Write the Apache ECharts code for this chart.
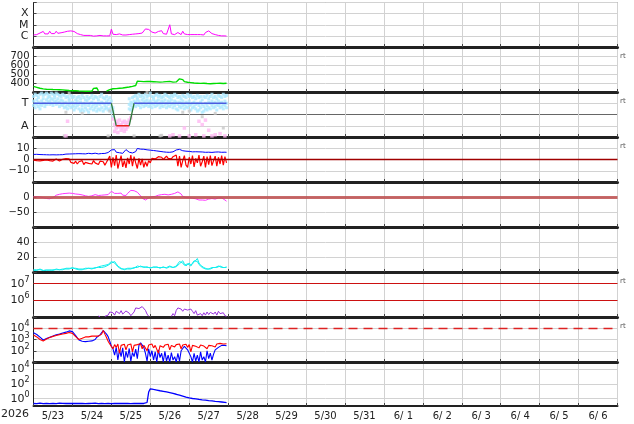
<!DOCTYPE html>
<html><head><meta charset="utf-8">
<script src="https://cdn.jsdelivr.net/npm/echarts@6/dist/echarts.min.js"></script>
<style>html,body{margin:0;padding:0;background:#fff}#c{width:634px;height:424px}</style>
</head><body><div id="c"></div>
<script>
// ---- tick labels ----
const dayLabels = ['5/23','5/24','5/25','5/26','5/27','5/28','5/29','5/30','5/31','6/ 1','6/ 2','6/ 3','6/ 4','6/ 5','6/ 6'];
const yearLabel = '2026';
// ---- hourly data from 5/23 00:00 ----
const xray = [1.2e-6,1.1e-6,1.3e-6,1.2e-6,1.8e-6,1.4e-6,2.5e-6,1.5e-6,1.6e-6,1.5e-6,
 2.6e-6,1.6e-6,1.7e-6,1.6e-6,2.6e-6,1.7e-6,1.8e-6,1.9e-6,2.4e-6,2.2e-6,
 3.0e-6,2.6e-6,3.6e-6,2.8e-6,3.4e-6,2.5e-6,2.0e-6,1.6e-6,1.4e-6,1.3e-6,
 1.2e-6,1.1e-6,1.0e-6,1.1e-6,1.3e-6,1.1e-6,1.0e-6,0.95e-6,1.0e-6,1.0e-6,
 0.95e-6,1.1e-6,1.0e-6,1.0e-6,0.95e-6,1.0e-6,1.1e-6,1.0e-6,4.0e-6,1.4e-6,
 1.2e-6,1.3e-6,1.2e-6,1.5e-6,1.3e-6,1.2e-6,1.3e-6,1.2e-6,1.7e-6,1.3e-6,
 1.4e-6,1.4e-6,1.6e-6,1.5e-6,1.5e-6,1.6e-6,1.5e-6,1.8e-6,2.5e-6,4.2e-6,
 5.0e-6,3.8e-6,2.8e-6,2.2e-6,1.9e-6,1.8e-6,1.7e-6,2.5e-6,1.9e-6,2.9e-6,
 1.6e-6,1.5e-6,1.4e-6,1.5e-6,1.0e-5,1.5e-6,1.4e-6,1.3e-6,1.4e-6,2.0e-6,
 1.4e-6,1.3e-6,2.6e-6,1.5e-6,1.4e-6,1.3e-6,1.4e-6,1.3e-6,1.2e-6,1.3e-6,
 1.2e-6,1.3e-6,1.2e-6,1.3e-6,1.2e-6,1.2e-6,2.0e-6,3.0e-6,2.8e-6,2.0e-6,
 1.6e-6,1.4e-6,1.3e-6,1.2e-6,1.1e-6,1.0e-6,1.0e-6,0.95e-6,1.0e-6,0.95e-6];
const speed = [362,358,352,346,342,338,335,333,331,330,
 329,328,327,327,326,326,325,325,324,322,
 320,318,316,315,314,313,315,312,311,313,
 310,312,309,314,308,316,310,340,318,345,
 312,null,null,null,null,309,318,326,332,336,
 340,338,344,342,346,344,348,350,352,355,
 360,362,365,372,420,428,418,424,415,420,
 418,412,416,410,414,408,412,405,410,402,
 412,404,415,406,418,404,410,420,412,432,
 446,425,438,415,422,408,418,404,412,400,
 410,398,405,396,408,398,404,394,400,392,
 398,394,402,396,410,398,406,394,402,398];
// sector: T = 1, A = -1
const sectorHours = [0,48,51,59,62,119];
const sectorLevel = [1,1,-1,-1,1,1];
const phiHi = [1.6,1.8,1.7,1.5,1.8,1.9,1.7,1.8,1.9,1.8,
 1.6,1.9,1.8,1.7,1.9,1.8,1.7,1.6,1.8,1.7,
 1.5,1.6,1.4,1.7,1.5,1.6,1.3,1.5,1.6,1.4,
 1.7,1.5,1.3,1.6,1.4,1.5,1.7,1.4,1.6,1.5,
 1.3,1.6,1.8,1.5,1.4,1.6,1.3,1.5,1.2,0.6,
 null,null,null,null,null,null,null,null,null,1.4,
 1.1,1.5,1.6,1.7,1.5,1.8,1.6,1.7,1.5,1.8,
 1.6,1.7,1.9,1.6,1.5,1.7,1.8,1.6,1.7,1.5,
 1.6,1.8,1.7,1.6,1.5,1.7,1.6,1.8,1.7,1.5,
 1.6,1.4,1.7,1.6,1.5,1.8,1.6,1.7,1.5,1.6,
 1.4,1.7,1.5,1.6,1.3,1.6,1.5,1.7,1.4,1.6,
 1.8,1.5,1.6,1.4,1.7,1.6,1.5,1.8,1.6,1.7];
const phiMid = [1.2,1.0,1.3,1.1,0.9,1.2,1.4,1.0,1.3,1.5,
 1.2,1.4,1.3,1.5,1.2,1.4,1.1,1.3,1.2,1.0,
 1.1,0.9,1.2,1.0,1.1,0.8,1.0,1.2,0.9,1.1,
 0.8,1.0,0.9,1.2,0.8,1.0,1.1,0.9,1.0,0.8,
 1.0,0.9,1.1,1.0,0.8,1.1,0.9,1.0,0.7,0.3,
 null,null,null,null,null,null,null,null,null,0.9,
 0.8,1.0,1.2,1.1,1.3,1.2,1.0,1.3,1.1,1.2,
 1.3,1.1,1.2,1.0,1.3,1.1,1.2,1.3,1.0,1.2,
 1.1,1.3,1.0,1.2,1.1,1.3,1.0,1.2,1.1,0.9,
 1.1,1.0,1.2,0.9,1.1,1.0,1.2,0.9,1.0,1.1,
 0.9,1.0,0.8,1.1,0.9,0.7,1.0,0.8,1.1,1.0,
 1.2,1.0,1.1,0.9,1.2,1.0,1.1,0.9,1.2,1.0];
const phiLo = [0.8,0.6,0.9,0.7,0.5,0.8,1.0,0.7,0.9,1.1,
 0.9,1.0,0.8,1.1,0.9,1.0,0.7,0.9,0.8,0.6,
 0.7,0.5,0.8,0.6,0.7,0.4,0.6,0.8,0.5,0.3,
 0.5,0.3,0.6,0.4,0.2,0.5,0.7,0.4,0.6,0.3,
 0.5,0.4,0.6,0.3,0.5,0.6,0.4,0.5,0.2,-0.2,
 null,null,null,null,null,null,null,null,null,0.5,
 0.4,0.6,0.8,0.7,0.9,0.8,0.6,0.9,0.7,0.8,
 0.9,0.7,0.8,0.6,0.9,0.7,0.8,0.9,0.6,0.8,
 0.7,0.9,0.6,0.8,0.7,0.9,0.6,0.8,0.5,0.4,
 0.7,0.6,0.8,0.5,0.7,0.6,0.8,0.4,0.6,0.7,
 0.5,0.3,0.4,0.6,0.2,0.3,0.5,0.4,0.6,0.5,
 0.8,0.6,0.7,0.4,0.8,0.6,0.7,0.5,0.8,0.6];
const pinkHours = [20,21,49,50,50,51,51,52,52,53,53,54,54,55,55,56,56,57,57,58,58,59,60,
 84,86,90,93,96,100,102,104,105,106,108,110,112,115,118];
const pinkValues = [-1.9,-0.6,-0.4,-0.9,-1.5,-0.6,-1.2,-0.8,-1.6,-0.5,-1.1,-0.9,-1.4,-0.7,-1.2,-0.6,-1.5,-0.9,-1.3,-0.7,-1.1,-0.5,-0.3,
 -1.9,-1.8,-1.9,-1.2,-1.9,-1.8,-0.6,-0.9,-1.9,-0.5,-1.4,-1.9,-1.8,-1.7,-1.9];
const grayHours = [19,20,22,30,46,47,62,70,78,79,92,96,104,112,117];
const grayValues = [-1.9,0.2,1.9,0.1,-1.9,0.3,-1.9,1.95,-1.9,-1.85,0.2,0.3,-0.2,0.1,-1.2];
const bt = [4.5,4.4,4.6,4.3,4.4,4.2,4.3,4.1,4.2,4.0,4.1,4.0,4.2,3.9,4.1,4.0,4.2,4.1,4.3,4.5,
 4.8,5.0,4.9,5.2,5.0,5.3,5.1,5.0,5.2,5.4,5.1,5.3,5.0,5.2,5.5,5.3,5.1,5.4,5.6,5.2,5.0,5.5,5.3,5.7,5.4,5.8,6.2,5.9,
 8.5,7.2,8.8,6.5,7.8,6.0,6.4,5.5,6.2,8.8,8.0,6.5,6.0,5.8,6.3,7.0,
 9.8,9.5,9.2,9.0,9.1,8.8,8.6,8.5,8.3,8.2,8.0,7.8,7.6,7.5,7.2,7.0,
 6.8,6.6,6.5,6.7,6.4,6.6,6.8,7.2,8.5,9.4,9.0,8.2,
 7.8,7.6,7.4,7.0,7.2,7.1,6.8,7.0,6.9,6.6,6.8,6.5,6.7,6.6,6.4,6.7,6.5,6.6,6.3,6.5,6.6,6.4,6.7,6.5,6.4,6.6,6.5,6.4];
const bz = [-0.5,0.5,-1.0,-0.3,-1.2,0.2,-0.8,-1.5,-0.4,0.3,-1.0,-0.6,-1.4,-0.2,0.4,-0.9,-1.3,-0.5,0.2,-0.8,0.8,1.5,
 0.5,-2.5,-1.0,-3.5,-1.5,-4.0,-2.0,-3.0,-1.0,-4.5,-2.5,-1.5,-3.5,-2.0,-4.0,-1.0,-3.0,-2.5,-4.5,-1.5,-3.0,-2.0,-5.0,-2.5,
 -1.0,3.0,-7.0,2.0,-5.5,4.0,-8.0,-2.0,3.5,-6.5,-1.0,-7.5,1.5,-4.0,4.0,-6.0,2.5,-3.0,-8.0,1.0,
 -5.0,0.5,-7.0,-2.0,-6.0,-1.0,-3.0,
 1.0,2.0,0.5,1.5,2.5,1.0,2.0,0.0,1.5,3.0,1.0,2.0,0.5,2.5,1.0,
 4.0,-6.0,3.0,-7.0,-1.0,3.5,-5.0,-7.0,2.0,-4.0,3.5,-6.5,1.0,-3.0,4.0,-6.0,-2.0,3.0,-7.0,2.5,-4.5,3.5,-5.5,-1.0,3.0,-6.0,2.0,-4.0,3.5,-5.0,2.5,-3.0];
const dst = [1,0,1,0,0,-1,-2,-3,-5,-6,
 -6,-5,-2,3,6,8,9,10,11,12,
 12,12,13,12,12,11,10,10,9,8,
 7,6,4,3,2,3,4,6,8,7,
 5,4,6,8,7,5,8,14,19,17,
 12,10,12,16,13,6,1,5,12,18,
 22,23,21,18,16,12,4,-4,-9,-10,
 -7,-3,0,1,1,2,4,6,7,8,
 8,9,8,7,8,9,10,12,15,17,
 16,10,2,-1,-2,-3,-2,-3,-4,-5,
 -6,-8,-10,-11,-10,-12,-11,-9,-7,-6,
 -5,-6,-7,-5,-3,-1,-3,-6,-10,-14];
const cyanA = [3,2,3,4,3,2,2,3,2,2, 3,3,2,3,4,3,3,4,3,4, 5,4,5,6,5,4,5,4,4,3, 4,5,4,4,5,4,5,6,5,6,
 7,6,8,7,9,8,10,11,14,16, 12,10,7,5,4,3,4,5,4,3, 4,5,6,7,6,7,8,7,6,8, 7,6,5,6,7,8,6,5,6,7,
 6,5,6,7,8,7,6,7,8,10, 14,16,12,9,8,11,10,8,12,15, 17,14,10,8,6,5,4,5,4,5, 6,5,6,7,8,7,6,7,6,7];
const cyanB = [2,3,2,3,4,3,2,2,3,2, 2,3,3,2,3,4,3,3,4,3, 4,5,4,5,6,5,4,5,3,4, 3,4,5,4,5,4,4,5,6,5,
 6,7,6,8,7,8,9,10,12,13, 14,11,8,6,5,4,3,4,5,4, 5,4,5,6,8,6,7,6,7,7, 6,7,6,5,6,7,7,6,5,6,
 7,6,5,6,7,8,6,8,7,9, 11,13,15,11,8,9,12,9,10,13, 14,18,12,9,7,6,5,4,5,4, 5,6,5,6,7,8,6,6,7,6];
const fluence = [null,null,null,null,null,null,null,null,null,null,
 null,null,null,null,null,null,null,null,null,null,
 null,null,null,null,null,null,null,null,null,null,
 null,null,null,null,null,null,null,null,null,null,
 1.15e5,1.05e5,null,null,1.1e5,1.05e5,1.3e5,2.0e5,2.6e5,1.8e5,
 1.3e5,2.2e5,2.5e5,1.6e5,2.4e5,1.5e5,1.2e5,2.3e5,2.5e5,1.7e5,
 1.2e5,1.1e5,2.0e5,3.5e5,4.0e5,3.2e5,3.8e5,4.2e5,3.6e5,2.5e5,
 1.5e5,1.1e5,null,null,null,null,null,null,null,null,
 null,null,null,null,null,1.1e5,1.6e5,1.2e5,2.5e5,3.5e5,
 4.2e5,3.0e5,2.2e5,3.0e5,3.8e5,2.6e5,2.0e5,3.0e5,2.2e5,1.6e5,
 2.4e5,1.3e5,1.1e5,1.6e5,1.2e5,1.8e5,1.3e5,2.0e5,1.4e5,1.9e5,
 2.3e5,1.5e5,2.0e5,1.3e5,2.2e5,1.6e5,1.4e5,1.8e5,1.2e5,1.1e5];
const elecBlue = [4000,3400,2800,2200,1600,1100,
 900,1000,1200,1400,1600,1800,2000,2300,2600,2800,3000,
 3500,3800,4200,4500,5000,5800,6300,
 5000,3500,2200,1400,900,600,700,
 800,650,900,700,850,750,800,1000,
 1600,2000,2600,3200,6300,
 4500,3000,1800,700,250,
 150,40,200,15,120,30,180,10,90,25,160,12,70,30,140,20,
 300,500,400,200,
 60,12,150,30,100,15,80,10,120,25,60,10,90,12,40,10,70,15,30,10,60,12,100,
 150,250,200,120,80,
 30,10,60,12,40,10,80,15,30,10,100,20,60,15,50,
 120,150,200,250,300,320,300,280];
const elecRed = [2500,2100,1700,1300,1000,800,750,
 900,1100,1300,1500,1700,1900,2100,2300,2500,2700,2900,3100,3300,3500,3800,4200,4500,
 3500,2500,1800,1400,1000,1100,1300,
 1500,1700,1800,1700,1900,2000,1800,2000,2200,2000,2400,3000,
 6300,3000,1500,700,400,
 280,150,350,200,400,60,300,220,380,120,
 320,250,400,80,300,200,350,250,420,150,
 300,380,100,320,250,400,180,300,350,60,
 280,400,200,320,250,380,120,300,420,220,
 350,280,400,150,320,250,380,200,350,80,
 300,400,250,350,180,320,420,260,380,150,
 300,400,280,350,220,400,300,450,320,400,
 380,420];
const proton = [0.22,0.23,0.21,0.22,0.24,0.22,0.21,0.23,0.22,0.22,
 0.21,0.22,0.23,0.22,0.21,0.22,0.24,0.22,0.23,0.22,
 0.22,0.21,0.23,0.22,0.22,0.24,0.22,0.21,0.22,0.23,
 0.22,0.23,0.21,0.22,0.22,0.21,0.23,0.22,0.24,0.22,
 0.21,0.22,0.23,0.22,0.21,0.22,0.22,0.23,0.21,0.22,
 0.22,0.24,0.22,0.21,0.23,0.22,0.22,0.21,0.23,0.22,
 0.21,0.22,0.23,0.22,0.22,0.21,0.23,0.22,0.22,0.24,
 0.3,8,22,20,18,16.5,15,13.5,12,11,
 10,9,8.2,7.3,6.5,5.8,5.1,4.5,4.0,3.5,
 3.0,2.6,2.2,1.9,1.6,1.4,1.25,1.15,1.05,0.98,
 0.92,0.86,0.8,0.75,0.7,0.66,0.62,0.58,0.55,0.52,
 0.49,0.46,0.43,0.41,0.39,0.37,0.35,0.33,0.31,0.29];

// ---- layout ----
const FONT = 'DejaVu Sans';
const edges = [2.5, 47, 92, 137, 182, 227, 272, 317, 362, 406];
const GRID_C = '#d2d2d2';
const pairs = arr => arr.map((v, i) => [i, v]);
const pts = (hs, vs) => hs.map((h, i) => [h, vs[i]]);
const minus = v => (v < 0 ? '\u2212' + Math.abs(v) : String(v));
function powLabel(show) {
  return function (v) {
    const l = Math.log10(v), e = Math.round(l);
    if (Math.abs(l - e) > 0.01 || show.indexOf(e) < 0) return '';
    return '{b|10}{s|' + e + '}';
  };
}
const powRich = { b: { fontSize: 11, fontFamily: FONT, color: '#222' },
                  s: { fontSize: 8, fontFamily: FONT, color: '#222', padding: [0, 0, 8, 0] } };

const grids = [], xAxes = [], yAxes = [];
for (let i = 0; i < 9; i++) {
  grids.push({ left: 33.5, right: 16.5, top: edges[i], height: edges[i + 1] - edges[i],
    show: true, borderColor: '#222', borderWidth: 1, backgroundColor: 'transparent' });
  xAxes.push({ type: 'value', gridIndex: i, min: 0, max: 360, interval: 24,
    axisLine: { show: true, onZero: false, lineStyle: { color: '#222', width: i === 8 ? 2 : 3 } },
    axisTick: { show: true, inside: true, length: 3, lineStyle: { color: '#444' } },
    splitLine: { show: true, lineStyle: { color: GRID_C, width: 1 } },
    axisLabel: i === 8 ? {
      show: true, margin: 5, fontSize: 10, fontFamily: FONT, color: '#222',
      customValues: dayLabels.map((_, k) => 12 + 24 * k),
      formatter: v => dayLabels[Math.round((v - 12) / 24)] || ''
    } : { show: false } });
}
const yBase = (i, extra) => Object.assign({
  gridIndex: i,
  axisLine: { show: true, onZero: false, lineStyle: { color: '#222', width: 1 } },
  axisTick: { show: true, inside: true, length: 3, lineStyle: { color: '#444' } },
  splitLine: { show: true, lineStyle: { color: GRID_C, width: 1 } },
  axisLabel: { margin: 4, fontSize: 10, fontFamily: FONT, color: '#222' }
}, extra);
// 0 X-ray
yAxes.push(yBase(0, { type: 'log', logBase: 10, min: 1e-7, max: 1e-3,
  axisLabel: { margin: 5, fontSize: 11, fontFamily: FONT, color: '#222',
    formatter: v => ({ '-6': 'C', '-5': 'M', '-4': 'X' })[Math.round(Math.log10(v))] || '' } }));
// 1 speed
yAxes.push(yBase(1, { type: 'value', min: 300, max: 800, interval: 100,
  axisLabel: { margin: 4, fontSize: 10, fontFamily: FONT, color: '#222',
    formatter: v => (v === 300 || v === 800 ? '' : String(v)) } }));
// 2 sector
yAxes.push(yBase(2, { type: 'value', min: -2, max: 2, interval: 1,
  splitLine: { show: true, lineStyle: { color: [GRID_C, GRID_C, '#666', GRID_C, GRID_C], width: 1 } },
  axisLabel: { margin: 5, fontSize: 11, fontFamily: FONT, color: '#222',
    formatter: v => (v === 1 ? 'T' : v === -1 ? 'A' : '') } }));
// 3 IMF
yAxes.push(yBase(3, { type: 'value', min: -20, max: 20, interval: 10,
  axisLabel: { margin: 4, fontSize: 10, fontFamily: FONT, color: '#222',
    formatter: v => (Math.abs(v) === 20 ? '' : minus(v)) } }));
// 4 Dst
yAxes.push(yBase(4, { type: 'value', min: -100, max: 50, interval: 50,
  axisLabel: { margin: 4, fontSize: 10, fontFamily: FONT, color: '#222',
    formatter: v => (v === 0 || v === -50 ? minus(v) : '') } }));
// 5 cyan
yAxes.push(yBase(5, { type: 'value', min: 0, max: 60, interval: 20,
  axisLabel: { margin: 4, fontSize: 10, fontFamily: FONT, color: '#222',
    formatter: v => (v === 20 || v === 40 ? String(v) : '') } }));
// 6 fluence
yAxes.push(yBase(6, { type: 'log', logBase: 10, min: 1e5, max: 5e7,
  splitLine: { show: false },
  axisLabel: { margin: 4, formatter: powLabel([6, 7]), rich: powRich } }));
// 7 electrons
yAxes.push(yBase(7, { type: 'log', logBase: 10, min: 10, max: 1e5,
  axisLabel: { margin: 4, formatter: powLabel([2, 3, 4]), rich: powRich } }));
// 8 protons
yAxes.push(yBase(8, { type: 'log', logBase: 10, min: 0.1, max: 1e5,
  axisTick: { show: false },
  splitLine: { show: true, lineStyle: { color: ['rgba(0,0,0,0)', GRID_C], width: 1 } },
  axisLabel: { margin: 4, formatter: powLabel([0, 2, 4]), rich: powRich } }));

const line = (i, data, color, width, extra) => Object.assign({
  type: 'line', xAxisIndex: i, yAxisIndex: i, data: data, showSymbol: false, symbol: 'none',
  lineStyle: { color: color, width: width || 1 }, itemStyle: { color: color },
  connectNulls: false, animation: false, silent: true, clip: true
}, extra || {});
const hline = (val, color, width, type) => ({
  silent: true, symbol: 'none', animation: false, label: { show: false },
  lineStyle: { color: color, width: width, type: type || 'solid' },
  data: [{ yAxis: val }]
});
const scat = (i, data, color, size) => ({
  type: 'scatter', xAxisIndex: i, yAxisIndex: i, data: data, symbol: 'rect', symbolSize: size,
  itemStyle: { color: color }, animation: false, silent: true, clip: true
});

const series = [];
series.push(line(0, pairs(xray), '#ff00ff', 1));
series.push(line(1, pairs(speed), '#00dd00', 1.4));
// sector
series.push(scat(2, pairs(phiHi).filter(p => p[1] != null), '#ace8ff', 3));
series.push(scat(2, pairs(phiMid).filter(p => p[1] != null), '#ace8ff', 3));
series.push(scat(2, pairs(phiLo).filter(p => p[1] != null), '#ace8ff', 3));
series.push(scat(2, pts(grayHours, grayValues), '#c8c8c8', 3));
series.push(scat(2, pts(pinkHours, pinkValues), '#ffb8f2', 3.5));
const segColor = ['#4a5ce0', '#2f7a3a', '#ee2020', '#2f7a3a', '#4a5ce0'];
for (let k = 0; k < sectorHours.length - 1; k++) {
  series.push(line(2, [[sectorHours[k], sectorLevel[k]], [sectorHours[k + 1], sectorLevel[k + 1]]], segColor[k], 1.3));
}
// IMF
series.push(line(3, pairs(bt), '#0000ff', 1));
series.push(line(3, pairs(bz), '#ff0000', 1.2, { markLine: hline(0, '#a00000', 1.4) }));
// Dst
series.push(line(4, pairs(dst), '#ff33ff', 1, { markLine: hline(0, 'rgba(190,80,80,0.85)', 3) }));
// cyan
series.push(line(5, pairs(cyanA), '#10eeee', 1));
series.push(line(5, pairs(cyanB), '#10eeee', 1));
// fluence
series.push(line(6, pairs(fluence), '#9933dd', 1, { markLine: { silent: true, symbol: 'none', animation: false,
  label: { show: false }, lineStyle: { color: '#cc1111', width: 1.2, type: 'solid' }, data: [{ yAxis: 1e6 }, { yAxis: 1e7 }] } }));
// electrons
series.push(line(7, pairs(elecBlue), '#0000ff', 1.1));
series.push(line(7, pairs(elecRed), '#ff0000', 1.1, { markLine: hline(1e4, '#dd2222', 1.4, [9, 6]) }));
// protons
series.push(line(8, pairs(proton), '#0000ff', 1.3));

const graphics = [{ type: 'text', left: 1, top: 409, style: { text: yearLabel, fontSize: 11, fontFamily: FONT, fill: '#222' } }];
[1, 2, 3, 6, 7].forEach(k => graphics.push({ type: 'text', left: 620, top: edges[k] + 6,
  style: { text: 'rt', fontSize: 7, fontFamily: FONT, fill: '#555' } }));

const chart = echarts.init(document.getElementById('c'));
chart.setOption({
  animation: false,
  backgroundColor: '#fff',
  textStyle: { fontFamily: FONT },
  grid: grids, xAxis: xAxes, yAxis: yAxes, series: series, graphic: graphics
});
</script></body></html>
